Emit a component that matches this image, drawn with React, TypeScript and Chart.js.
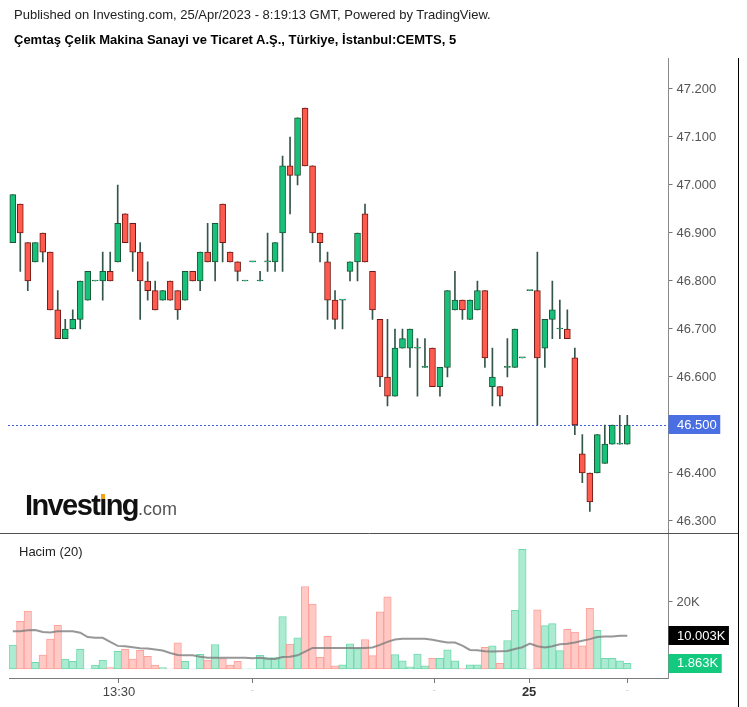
import React, { useEffect, useRef } from 'react';
import { Chart, registerables } from 'chart.js';

Chart.register(...registerables);

// ---------------- data ----------------
const candleOpen = [46.88,46.96,46.88,46.84,46.90,46.86,46.74,46.68,46.70,46.72,
46.76,46.80,46.80,46.82,46.84,46.94,46.92,46.86,46.80,46.78,
46.76,46.80,46.78,46.76,46.82,46.80,46.86,46.84,46.96,46.86,
46.84,46.80,46.84,46.80,46.84,46.84,46.90,47.04,47.02,47.16,
47.04,46.90,46.84,46.76,46.76,46.82,46.84,46.94,46.82,46.72,
46.60,46.56,46.66,46.66,46.66,46.62,46.66,46.58,46.62,46.74,
46.76,46.72,46.74,46.78,46.58,46.58,46.62,46.62,46.64,46.78,
46.78,46.66,46.72,46.70,46.70,46.64,46.44,46.40,46.40,46.42,
46.46,46.46,46.46];
const candleHigh = [46.98,46.96,46.88,46.88,46.90,46.86,46.78,46.72,46.74,46.80,
46.82,46.80,46.86,46.86,47.00,46.94,46.92,46.88,46.84,46.80,
46.78,46.80,46.78,46.82,46.82,46.86,46.92,46.92,46.96,46.86,
46.84,46.80,46.84,46.82,46.90,46.88,47.06,47.10,47.14,47.16,
47.04,46.90,46.86,46.78,46.76,46.84,46.90,46.96,46.82,46.72,
46.72,46.70,46.70,46.70,46.68,46.68,46.66,46.62,46.78,46.82,
46.76,46.76,46.80,46.78,46.66,46.58,46.68,46.70,46.64,46.78,
46.86,46.72,46.80,46.76,46.74,46.66,46.48,46.40,46.48,46.50,
46.50,46.52,46.52];
const candleLow = [46.88,46.82,46.78,46.84,46.84,46.74,46.68,46.68,46.70,46.70,
46.76,46.80,46.76,46.80,46.84,46.88,46.82,46.72,46.76,46.74,
46.76,46.76,46.72,46.76,46.80,46.78,46.84,46.80,46.84,46.84,
46.80,46.80,46.84,46.80,46.82,46.82,46.82,46.94,47.00,47.04,
46.88,46.84,46.72,46.70,46.70,46.80,46.80,46.84,46.72,46.58,
46.54,46.56,46.66,46.62,46.56,46.62,46.58,46.56,46.60,46.74,
46.72,46.72,46.74,46.62,46.54,46.54,46.60,46.62,46.64,46.78,
46.50,46.62,46.68,46.68,46.68,46.48,46.38,46.32,46.40,46.42,
46.46,46.46,46.46];
const candleClose = [46.98,46.90,46.80,46.88,46.86,46.74,46.68,46.70,46.72,46.80,
46.82,46.80,46.82,46.80,46.92,46.88,46.86,46.80,46.78,46.74,
46.78,46.76,46.74,46.82,46.80,46.86,46.84,46.92,46.88,46.84,
46.82,46.80,46.84,46.80,46.84,46.88,47.04,47.02,47.14,47.04,
46.90,46.88,46.76,46.72,46.76,46.84,46.90,46.84,46.74,46.60,
46.56,46.66,46.68,46.70,46.66,46.62,46.58,46.62,46.78,46.76,
46.74,46.76,46.78,46.64,46.60,46.56,46.62,46.70,46.64,46.78,
46.64,46.72,46.74,46.70,46.68,46.50,46.40,46.34,46.48,46.46,
46.50,46.46,46.50];
const volumes = [7200,14300,17300,2100,4300,9000,13100,3100,2400,6000,
200,1300,2800,600,5400,6000,3100,5700,3900,1300,
600,200,7900,2400,200,4500,2800,7400,3200,1300,
2400,200,200,4200,3500,3500,15700,7500,9400,24600,
19400,3600,9800,1100,1400,7600,6200,8900,4100,17100,
21500,4400,2600,800,4600,1100,3300,3300,5800,2600,
400,1400,1400,6600,7000,1800,8600,17500,35600,100,
17700,13000,13600,5600,11900,11100,7000,18100,11600,3300,
3300,2600,1863];
const volumeMA = [11300,11300,11600,11700,11100,11000,11300,11300,11300,10900,
9600,9400,9400,8200,7000,6900,6600,6300,6200,5900,
5600,4900,4300,4200,4200,3800,3500,3500,3500,3500,
3500,3500,3300,3500,3200,3100,3700,3800,4200,5300,
6400,6400,6400,6400,6400,6400,6400,6400,6500,7300,
8200,8900,9100,9100,9100,9100,8800,8400,8000,8000,
7100,5800,5700,5400,5300,5400,5500,6100,6600,7700,
6900,6500,6900,7500,7600,8000,8500,9000,9600,9800,
9800,10000,10003];
const priceTicks = [46.3, 46.4, 46.5, 46.6, 46.7, 46.8, 46.9, 47.0, 47.1, 47.2];
const volumeTicks = [0, 20000];
const timeTickIndex = [14.17, 32, 56.25, 68.9, 82];
const timeTickLabels = ['13:30', '-', '-', '25', '-'];
const lastPrice = 46.5;
const lastVolume = 1863;
const lastVolumeMA = 10003;
const titleLine1 = 'Published on Investing.com, 25/Apr/2023 - 8:19:13 GMT, Powered by TradingView.';
const titleLine2 = 'Çemtaş Çelik Makina Sanayi ve Ticaret A.Ş., Türkiye, İstanbul:CEMTS, 5';
const volumeTitle = 'Hacim (20)';

// ---------------- layout / style ----------------
const FONT = 'Arial, "Liberation Sans", Helvetica, sans-serif';
const W = 747;
const PLOT_LEFT = 9.05;
const AXIS_W = 78.5;
const PRICE_H = 534;
const VOL_H = 173;
const X_MIN = -0.5;
const X_MAX = 87.5;
const PRICE_MIN = 46.275;
const PRICE_MAX = 47.26458;
const VOL_MIN = -2518.5;
const VOL_MAX = 40148;

const UP_FILL = '#17c17a';
const UP_BORDER = '#1b5536';
const DOWN_FILL = '#ff5a4e';
const DOWN_BORDER = '#6e1a14';
const WICK = '#34554a';
const VOL_UP_FILL = '#aaebd2';
const VOL_UP_BORDER = '#70d9ae';
const VOL_DOWN_FILL = '#ffc9c5';
const VOL_DOWN_BORDER = '#ffa099';

const isUp = (i: number) => candleClose[i] >= candleOpen[i];

const zeroPad = (s: any) => {
  s.paddingTop = 0; s.paddingBottom = 0; s.paddingLeft = 0; s.paddingRight = 0;
};

function drawValueBox(ctx: CanvasRenderingContext2D, x: number, y: number, text: string, bg: string, fg: string) {
  ctx.font = '13px ' + FONT;
  const tw = ctx.measureText(text).width;
  ctx.fillStyle = bg;
  ctx.fillRect(x, Math.round(y - 9.5), tw + 12, 19);
  ctx.fillStyle = fg;
  ctx.textBaseline = 'middle';
  ctx.textAlign = 'left';
  ctx.fillText(text, x + 8.5, y + 0.5);
}

const pricePlugin = {
  id: 'priceDeco',
  beforeDatasetsDraw(chart: any) {
    const { ctx, chartArea, scales } = chart;
    const y = Math.round(scales.y.getPixelForValue(lastPrice)) + 0.5;
    ctx.save();
    ctx.strokeStyle = '#4060dc';
    ctx.lineWidth = 1;
    ctx.setLineDash([2, 2]);
    ctx.beginPath();
    ctx.moveTo(8, y);
    ctx.lineTo(chartArea.right, y);
    ctx.stroke();
    ctx.restore();
  },
  afterDraw(chart: any) {
    const { ctx, chartArea, scales } = chart;
    ctx.save();
    ctx.lineWidth = 1;
    ctx.strokeStyle = '#505050';
    ctx.beginPath();
    ctx.moveTo(0, 533.5);
    ctx.lineTo(739, 533.5);
    ctx.stroke();
    ctx.strokeStyle = '#000';
    ctx.beginPath();
    ctx.moveTo(738.5, chartArea.top);
    ctx.lineTo(738.5, PRICE_H);
    ctx.stroke();
    drawValueBox(ctx, chartArea.right, scales.y.getPixelForValue(lastPrice), lastPrice.toFixed(3), '#4a6fe3', '#ffffff');
    ctx.restore();
  },
};

const volumePlugin = {
  id: 'volDeco',
  afterDraw(chart: any) {
    const { ctx, chartArea, scales } = chart;
    ctx.save();
    ctx.lineWidth = 1;
    ctx.strokeStyle = '#000';
    ctx.beginPath();
    ctx.moveTo(738.5, 0);
    ctx.lineTo(738.5, VOL_H);
    ctx.stroke();
    drawValueBox(ctx, chartArea.right, scales.y.getPixelForValue(lastVolumeMA), (lastVolumeMA / 1000).toFixed(3) + 'K', '#000000', '#ffffff');
    drawValueBox(ctx, chartArea.right, scales.y.getPixelForValue(lastVolume), (lastVolume / 1000).toFixed(3) + 'K', '#12c97e', '#ffffff');
    ctx.restore();
  },
};

export default function App() {
  const priceRef = useRef<HTMLCanvasElement>(null);
  const volRef = useRef<HTMLCanvasElement>(null);

  useEffect(() => {
    const idx = candleOpen.map((_, i) => i);
    const priceChart = new Chart(priceRef.current as HTMLCanvasElement, {
      type: 'bar',
      data: {
        datasets: [
          {
            label: 'body',
            data: idx.map((i) => ({ x: i, y: [candleOpen[i], candleClose[i]] })) as any,
            backgroundColor: idx.map((i) => (isUp(i) ? UP_FILL : DOWN_FILL)),
            borderColor: idx.map((i) => (isUp(i) ? UP_BORDER : DOWN_BORDER)),
            borderWidth: 1,
            borderSkipped: false,
            barThickness: 6,
            minBarLength: 1,
            grouped: false,
            order: 0,
          } as any,
          {
            label: 'wick',
            data: idx.map((i) => ({ x: i, y: [candleLow[i], candleHigh[i]] })) as any,
            backgroundColor: WICK,
            borderWidth: 0,
            barThickness: 1,
            grouped: false,
            order: 1,
          } as any,
        ],
      },
      options: {
        responsive: false,
        animation: false,
        devicePixelRatio: 1,
        layout: { padding: { left: PLOT_LEFT, top: 58, right: 0, bottom: 1 } },
        plugins: { legend: { display: false }, tooltip: { enabled: false } },
        scales: {
          x: {
            type: 'linear',
            min: X_MIN,
            max: X_MAX,
            offset: false,
            grid: { offset: false },
            display: false,
            afterFit: zeroPad,
          },
          y: {
            position: 'right',
            min: PRICE_MIN,
            max: PRICE_MAX,
            afterBuildTicks: (s: any) => { s.ticks = priceTicks.map((v) => ({ value: v })); },
            afterFit: (s: any) => { s.width = AXIS_W; zeroPad(s); },
            ticks: {
              callback: (v: any) => Number(v).toFixed(3),
              font: { family: FONT, size: 13 },
              color: '#555555',
              padding: 4,
            },
            grid: { drawOnChartArea: false, tickLength: 4, color: '#777777' },
            border: { display: true, color: '#8a8a8a' },
          },
        },
      } as any,
      plugins: [pricePlugin],
    });

    const volChart = new Chart(volRef.current as HTMLCanvasElement, {
      type: 'bar',
      data: {
        datasets: [
          {
            type: 'line',
            label: 'ma',
            data: idx.map((i) => ({ x: i, y: volumeMA[i] })) as any,
            borderColor: 'rgba(125,125,125,0.8)',
            borderWidth: 2,
            pointRadius: 0,
            tension: 0,
            order: 0,
          } as any,
          {
            type: 'bar',
            label: 'volume',
            data: idx.map((i) => ({ x: i, y: volumes[i] })) as any,
            backgroundColor: idx.map((i) => (isUp(i) ? VOL_UP_FILL : VOL_DOWN_FILL)),
            borderColor: idx.map((i) => (isUp(i) ? VOL_UP_BORDER : VOL_DOWN_BORDER)),
            borderWidth: 1,
            borderSkipped: false,
            barThickness: 7.5,
            order: 1,
          } as any,
        ],
      },
      options: {
        responsive: false,
        animation: false,
        devicePixelRatio: 1,
        layout: { padding: { left: PLOT_LEFT, top: 0, right: 0, bottom: 0 } },
        plugins: { legend: { display: false }, tooltip: { enabled: false } },
        scales: {
          x: {
            type: 'linear',
            min: X_MIN,
            max: X_MAX,
            offset: false,
            position: 'bottom',
            afterBuildTicks: (s: any) => { s.ticks = timeTickIndex.map((v) => ({ value: v })); },
            afterFit: (s: any) => { s.height = 29; zeroPad(s); },
            ticks: {
              autoSkip: false,
              maxRotation: 0,
              minRotation: 0,
              padding: 2,
              callback: (_v: any, i: number) => timeTickLabels[i],
              font: (c: any) => ({
                family: FONT,
                size: timeTickLabels[c.index] === '-' ? 9 : 13,
                weight: timeTickLabels[c.index] === '25' ? 'bold' : 'normal',
              }),
              color: (c: any) =>
                timeTickLabels[c.index] === '-' ? '#c4c4c4' : timeTickLabels[c.index] === '25' ? '#333333' : '#444444',
            },
            grid: { drawOnChartArea: false, offset: false, tickLength: 5, color: '#777777' },
            border: { display: true, color: '#7a7a7a' },
          },
          y: {
            position: 'right',
            min: VOL_MIN,
            max: VOL_MAX,
            afterBuildTicks: (s: any) => { s.ticks = volumeTicks.map((v) => ({ value: v })); },
            afterFit: (s: any) => { s.width = AXIS_W; zeroPad(s); },
            ticks: {
              callback: (v: any) => (Number(v) === 0 ? '0' : Number(v) / 1000 + 'K'),
              font: { family: FONT, size: 13 },
              color: '#555555',
              padding: 4,
            },
            grid: { drawOnChartArea: false, tickLength: 4, color: '#777777' },
            border: { display: true, color: '#8a8a8a' },
          },
        },
      } as any,
      plugins: [volumePlugin],
    });

    return () => {
      priceChart.destroy();
      volChart.destroy();
    };
  }, []);

  return (
    <div
      style={{
        position: 'fixed',
        left: 0,
        top: 0,
        width: W,
        height: 707,
        background: '#ffffff',
        overflow: 'hidden',
        fontFamily: FONT,
      }}
    >
      <canvas
        ref={priceRef}
        width={W}
        height={PRICE_H}
        style={{ position: 'absolute', left: 0, top: 0, width: W, height: PRICE_H, display: 'block' }}
      />
      <canvas
        ref={volRef}
        width={W}
        height={VOL_H}
        style={{ position: 'absolute', left: 0, top: PRICE_H, width: W, height: VOL_H, display: 'block' }}
      />
      <div style={{ position: 'absolute', left: 14, top: 7, fontSize: 13, lineHeight: '16px', color: '#222', whiteSpace: 'nowrap' }}>
        {titleLine1}
      </div>
      <div style={{ position: 'absolute', left: 14, top: 32, fontSize: 13, lineHeight: '16px', color: '#000', fontWeight: 'bold', whiteSpace: 'nowrap' }}>
        {titleLine2}
      </div>
      <div style={{ position: 'absolute', left: 19, top: 543.5, fontSize: 13, lineHeight: '16px', color: '#222', whiteSpace: 'nowrap' }}>
        {volumeTitle}
      </div>
      <div
        style={{
          position: 'absolute',
          left: 25,
          top: 490.5,
          fontSize: 29,
          lineHeight: '29px',
          fontWeight: 'bold',
          letterSpacing: '-1.6px',
          color: '#111',
          whiteSpace: 'nowrap',
        }}
      >
        <span>Invest</span>
        <span style={{ position: 'relative' }}>
          ı
          <span
            style={{
              position: 'absolute',
              left: 1.5,
              top: 5.5,
              width: 4.5,
              height: 4.5,
              background: '#f5a01a',
            }}
          />
        </span>
        <span>ng</span>
        <span style={{ fontSize: 18, fontWeight: 'normal', color: '#555', letterSpacing: '0px' }}>.com</span>
      </div>
    </div>
  );
}
